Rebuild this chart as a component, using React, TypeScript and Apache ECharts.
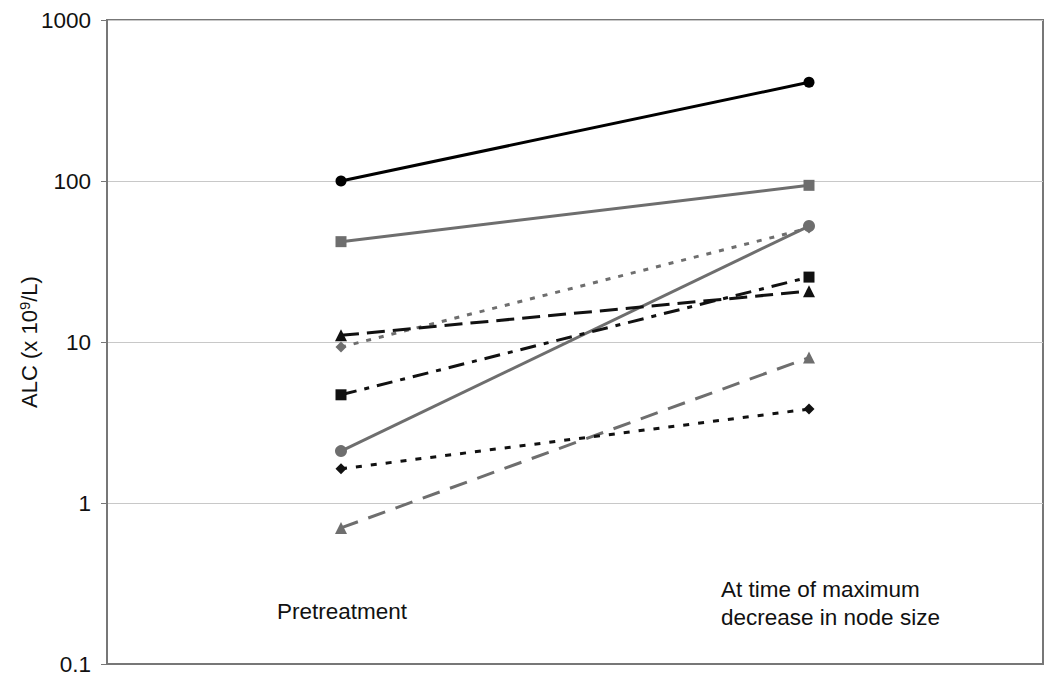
import React, { useEffect, useRef } from "react";
import * as echarts from "echarts";

const categories = ["Pretreatment", "At time of maximum\ndecrease in node size"];
const seriesBlackCircle = [100, 410];
const seriesGraySquare = [42, 94];
const seriesGrayDottedDiamond = [9.3, 51];
const seriesGrayCircle = [2.1, 52.5];
const seriesBlackDashDotSquare = [4.7, 25.3];
const seriesBlackDashTriangle = [11, 20.7];
const seriesGrayDashTriangle = [0.7, 8];
const seriesBlackDottedDiamond = [1.63, 3.83];

const BLACK = "#111111";
const GRAY = "#6e6e6e";
const FONT = "Liberation Sans, Arial, sans-serif";

export default function App() {
  const ref = useRef<HTMLDivElement>(null);
  useEffect(() => {
    document.body.style.margin = "0";
    const chart = echarts.init(ref.current!, null, { renderer: "svg" });
    const mk = (
      name: string,
      data: number[],
      color: string,
      symbol: string,
      symbolSize: number,
      type: any
    ) => ({
      name,
      type: "line",
      data,
      symbol,
      symbolSize,
      itemStyle: { color },
      lineStyle: { color, width: 3, type },
      z: 3,
    });
    chart.setOption({
      animation: false,
      backgroundColor: "#ffffff",
      textStyle: { fontFamily: FONT },
      grid: {
        left: 107,
        right: 7,
        top: 20,
        bottom: 22,
        show: true,
        borderColor: "#777777",
        borderWidth: 2,
        backgroundColor: "transparent",
      },
      xAxis: {
        type: "category",
        data: categories,
        boundaryGap: true,
        axisLine: { show: true, lineStyle: { color: "#777777", width: 2 } },
        axisTick: { show: false },
        axisLabel: { show: false },
        splitLine: { show: false },
      },
      yAxis: {
        type: "log",
        logBase: 10,
        min: 0.1,
        max: 1000,
        name: "ALC (x 10{sup|9}/L)",
        nameLocation: "middle",
        nameRotate: 90,
        nameGap: 66,
        nameMoveOverlap: false,
        nameTextStyle: {
          fontSize: 22,
          color: "#111",
          fontFamily: FONT,
          rich: {
            sup: {
              fontSize: 15,
              verticalAlign: "top",
              padding: [0, 0, 9, 0],
              color: "#111",
              fontFamily: FONT,
            },
          },
        },
        axisLine: { show: true, lineStyle: { color: "#777777", width: 2 } },
        axisTick: { show: true, length: 6, lineStyle: { color: "#777777", width: 1 } },
        axisLabel: {
          fontSize: 22.5,
          color: "#111",
          margin: 16,
          formatter: (v: number) => (v < 1 ? v.toFixed(1) : String(Math.round(v))),
        },
        splitLine: { show: true, lineStyle: { color: "#c8c8c8", width: 1 } },
        minorTick: { show: false },
      },
      graphic: [
        {
          type: "text",
          left: 277,
          top: 600,
          style: {
            text: categories[0],
            fontSize: 22.5,
            fill: "#111",
            fontFamily: FONT,
          },
        },
        {
          type: "text",
          left: 721,
          top: 575,
          style: {
            text: categories[1],
            fontSize: 22.5,
            lineHeight: 28,
            fill: "#111",
            fontFamily: FONT,
          },
        },
      ],
      series: [
        mk("s1", seriesBlackCircle, "#000000", "circle", 11, "solid"),
        mk("s2", seriesGraySquare, GRAY, "rect", 11, "solid"),
        mk("s3", seriesGrayDottedDiamond, GRAY, "diamond", 11, [5, 8]),
        mk("s4", seriesGrayCircle, GRAY, "circle", 12, "solid"),
        mk("s5", seriesBlackDashDotSquare, BLACK, "rect", 11, [16, 8, 5, 8]),
        mk("s6", seriesBlackDashTriangle, BLACK, "triangle", 12, [18, 8]),
        mk("s7", seriesGrayDashTriangle, GRAY, "triangle", 12, [18, 11]),
        mk("s8", seriesBlackDottedDiamond, BLACK, "diamond", 11, [6, 9]),
      ],
    });
    return () => chart.dispose();
  }, []);
  return <div ref={ref} style={{ width: 1050, height: 686 }} />;
}
